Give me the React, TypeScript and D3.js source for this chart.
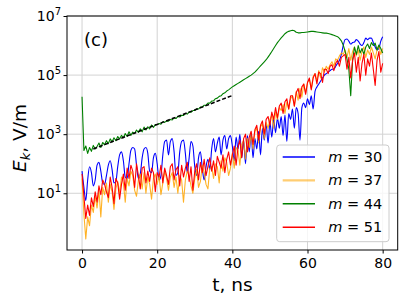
import React, { useEffect, useRef } from "react";
import * as d3 from "d3";

const width = 407;
const height = 305;

// all series are sampled every 0.5 ns, from t = 0 to t = 80
const tStep = 0.5;

const seriesM = [30, 37, 44, 51];
const seriesColors = ["blue", "orange", "green", "red"];

// log10(E_k / (V/m)), one row = 5 ns
const m30 = [
  1.75, 1.2, 0.75, 1.45, 1.9, 1.7, 1.25, 1.45, 1.95, 2.05,
  1.75, 1.35, 1.3, 1.6, 1.95, 2.1, 1.8, 1.35, 1.4, 1.9,
  2.3, 2.4, 2.1, 1.55, 1.5, 2.0, 2.45, 2.55, 2.5, 1.95,
  1.5, 1.65, 2.2, 2.5, 2.55, 2.35, 1.75, 1.7, 2.2, 2.35,
  2.0, 1.45, 1.6, 2.3, 2.75, 2.8, 2.3, 2.75, 2.85, 2.4,
  1.6, 1.7, 2.4, 2.75, 2.8, 2.35, 1.7, 2.2, 2.75, 2.6,
  1.9, 1.6, 2.2, 2.4, 1.85, 1.45, 1.9, 2.15, 1.8, 2.5,
  2.85, 2.4, 2.7, 2.9, 2.3, 2.8, 2.95, 2.5, 2.85, 2.95,
  2.6, 2.1, 2.9, 2.5, 3.0, 2.2, 2.8, 2.0, 2.95, 2.4,
  3.05, 2.2, 2.85, 2.5, 3.1, 2.3, 3.2, 2.8, 3.35, 2.7,
  3.4, 2.9, 3.5, 3.05, 3.55, 3.2, 3.6, 2.95, 3.65, 2.75,
  3.7, 3.5, 3.85, 3.2, 3.9, 3.7, 2.8, 3.9, 4.05, 3.9,
  4.2, 4.0, 4.3, 3.85, 4.45, 4.6, 4.7, 4.8, 4.9, 5.0,
  5.05, 5.1, 5.15, 5.2, 5.2, 5.3, 5.4, 5.5, 5.7, 6.0,
  6.2, 6.22, 6.15, 6.05, 6.1, 6.12, 6.2, 6.15, 6.05, 6.0,
  6.1, 6.25, 6.2, 6.25, 6.25, 6.1, 5.95, 5.85, 5.9, 6.15,
  6.3,
];

const m37 = [
  1.5, 0.3, -0.55, 0.2, -0.1, 0.6, 0.35, 0.9, 0.5, 1.1,
  0.2, 1.2, 0.95, 1.35, 0.7, 1.3, 1.05, 0.45, 1.15, 1.4,
  1.0, 1.55, 1.35, 0.7, 1.5, 1.25, 1.75, 1.6, 1.1, 0.9,
  1.45, 1.65, 1.15, 1.7, 1.0, 1.55, 1.3, 0.8, 1.5, 1.65,
  1.3, 1.6, 0.95, 1.35, 1.75, 1.5, 1.1, 1.55, 1.7, 1.2,
  1.55, 1.0, 1.6, 1.45, 0.7, 1.45, 1.75, 1.6, 1.25, 1.0,
  1.5, 1.8, 1.2, 1.4, 1.95, 1.7, 1.3, 1.15, 1.85, 1.9,
  1.5, 2.0, 1.9, 1.35, 2.1, 1.75, 2.2, 2.05, 1.6, 1.85,
  2.35, 1.85, 2.55, 2.45, 1.95, 2.65, 2.8, 2.15, 2.85, 2.55,
  3.0, 2.5, 3.1, 3.2, 2.7, 3.25, 3.35, 2.85, 3.4, 3.2,
  3.5, 3.65, 3.2, 3.75, 3.5, 3.9, 3.8, 4.0, 3.7, 4.1,
  3.85, 4.2, 4.3, 3.95, 4.45, 4.15, 4.55, 4.25, 4.7, 4.4,
  4.75, 4.85, 4.55, 4.95, 5.05, 4.8, 5.15, 4.9, 5.25, 5.1,
  5.3, 5.2, 5.35, 5.45, 5.3, 5.55, 5.5, 5.65, 5.75, 5.7,
  5.85, 5.6, 5.9, 5.5, 5.8, 5.95, 5.65, 5.85, 5.5, 5.8,
  5.95, 5.6, 5.85, 5.7, 5.95, 5.75, 5.55, 5.85, 6.0, 5.7,
  5.9,
];

const m44 = [
  4.27, 2.45, 2.6, 2.35, 2.55, 2.42, 2.62, 2.5, 2.58, 2.7,
  2.55, 2.72, 2.64, 2.78, 2.68, 2.84, 2.74, 2.88, 2.78, 2.92,
  2.84, 2.96, 2.88, 3.02, 2.92, 3.08, 2.96, 3.07, 3.02, 3.14,
  3.06, 3.18, 3.08, 3.24, 3.14, 3.25, 3.18, 3.31, 3.23, 3.33,
  3.32, 3.36, 3.34, 3.42, 3.4, 3.45, 3.44, 3.5, 3.48, 3.55,
  3.53, 3.6, 3.58, 3.64, 3.63, 3.7, 3.68, 3.75, 3.74, 3.8,
  3.8, 3.86, 3.85, 3.92, 3.92, 3.98, 3.98, 4.05, 4.05, 4.12,
  4.13, 4.2, 4.22, 4.28, 4.3, 4.37, 4.4, 4.46, 4.5, 4.55,
  4.6, 4.64, 4.68, 4.72, 4.76, 4.8, 4.84, 4.88, 4.92, 4.96,
  5.0, 5.05, 5.1, 5.17, 5.24, 5.31, 5.38, 5.45, 5.52, 5.61,
  5.7, 5.8, 5.9, 6.0, 6.1, 6.18, 6.26, 6.33, 6.4, 6.45,
  6.48, 6.5, 6.52, 6.5, 6.45, 6.43, 6.43, 6.44, 6.44, 6.45,
  6.46, 6.47, 6.48, 6.48, 6.47, 6.46, 6.45, 6.44, 6.43, 6.42,
  6.42, 6.41, 6.39, 6.37, 6.35, 6.32, 6.3, 6.24, 6.16, 6.02,
  5.8, 5.55, 5.2, 4.3, 5.5, 5.95, 5.7, 6.0, 5.75, 5.9,
  5.7, 5.95, 6.05, 5.9, 6.1, 6.0, 6.08, 5.85, 6.02, 5.9,
  5.75,
];

const m51 = [
  1.65, 0.9, 0.15, 0.6, 0.25, 0.85, 0.55, 1.05, 0.7, 1.25,
  0.95, 1.45, 1.3, 1.05, 0.85, 1.55, 1.2, 0.65, 1.5, 1.35,
  0.8, 1.3, 1.65, 1.1, 1.85, 1.5, 1.95, 1.75, 1.2, 2.0,
  1.6, 1.15, 1.85, 1.9, 1.35, 1.75, 1.4, 1.85, 1.7, 1.05,
  1.7, 1.55, 1.95, 1.35, 1.85, 1.6, 1.3, 1.9, 2.0, 1.45,
  1.8, 1.9, 1.25, 1.95, 1.55, 1.85, 2.05, 1.4, 1.9, 1.1,
  1.75, 2.0, 1.45, 2.05, 1.7, 2.15, 1.6, 1.9, 2.2, 1.75,
  2.1, 1.6, 2.25, 2.05, 1.85, 2.3, 1.7, 2.15, 2.4, 1.95,
  2.3, 2.6, 1.95, 2.55, 2.8, 2.2, 2.85, 3.0, 2.4, 2.9,
  3.1, 2.65, 3.15, 3.3, 2.8, 3.3, 3.45, 3.0, 3.5, 3.6,
  3.3, 3.75, 3.5, 3.9, 3.55, 3.95, 4.05, 3.7, 4.1, 4.2,
  3.85, 4.3, 4.3, 3.95, 4.4, 4.55, 4.2, 4.6, 4.7, 4.35,
  4.75, 4.9, 4.5, 4.9, 5.05, 4.7, 5.1, 5.05, 4.75, 5.2,
  5.2, 5.05, 5.3, 5.35, 5.15, 5.4, 5.5, 5.3, 5.6, 5.65,
  5.7, 5.2, 5.6, 4.9, 5.5, 5.75, 5.1, 5.6, 4.8, 5.4,
  5.7, 5.0, 5.55, 5.3, 5.75, 5.2, 4.65, 5.5, 5.8, 5.1,
  5.4,
];

const seriesData = [m30, m37, m44, m51];

// exponential fit of the m = 44 growth stage (dashed)
const fitT = [3, 40];
const fitLog = [2.5, 4.31];

const xTicks = [0, 20, 40, 60, 80];
const yTickExps = [1, 3, 5, 7];

const App = () => {
  const ref = useRef(null);

  useEffect(() => {
    const svg = d3.select(ref.current);
    svg.selectAll("*").remove();

    const font = "DejaVu Sans, sans-serif";
    const left = 67,
      right = 397.7,
      top = 16,
      bottom = 250;

    const x = d3.scaleLinear().domain([-4, 84]).range([left, right]);
    const y = d3
      .scaleLog()
      .domain([Math.pow(10, -0.92), 1e7])
      .range([bottom, top]);

    svg.append("rect").attr("width", width).attr("height", height).attr("fill", "white");

    // grid
    const grid = svg.append("g").attr("stroke", "#d3d3d3").attr("stroke-width", 1);
    grid
      .selectAll("line.gx")
      .data(xTicks)
      .join("line")
      .attr("x1", (d) => x(d))
      .attr("x2", (d) => x(d))
      .attr("y1", top)
      .attr("y2", bottom);
    grid
      .selectAll("line.gy")
      .data(yTickExps)
      .join("line")
      .attr("x1", left)
      .attr("x2", right)
      .attr("y1", (d) => y(Math.pow(10, d)))
      .attr("y2", (d) => y(Math.pow(10, d)));

    svg
      .append("clipPath")
      .attr("id", "plot-clip")
      .append("rect")
      .attr("x", left)
      .attr("y", top)
      .attr("width", right - left)
      .attr("height", bottom - top);

    const lineGenerator = d3
      .line<number>()
      .x((_, i) => x(i * tStep))
      .y((d) => y(Math.pow(10, d)));

    const plot = svg.append("g").attr("clip-path", "url(#plot-clip)");
    seriesData.forEach((data, k) => {
      plot
        .append("path")
        .datum(data)
        .attr("d", lineGenerator.curve(k == 0 ? d3.curveMonotoneX : d3.curveLinear))
        .attr("fill", "none")
        .attr("stroke", seriesColors[k])
        .attr("stroke-width", 1.1)
        .attr("stroke-linejoin", "round")
        .attr("opacity", k == 1 ? 0.85 : 1);
    });

    plot
      .append("path")
      .datum(fitT.map((t, i) => [t, fitLog[i]]))
      .attr(
        "d",
        d3
          .line<number[]>()
          .x((d) => x(d[0]))
          .y((d) => y(Math.pow(10, d[1])))
      )
      .attr("fill", "none")
      .attr("stroke", "black")
      .attr("stroke-width", 1.5)
      .attr("stroke-dasharray", "4,2");

    // frame
    svg
      .append("rect")
      .attr("x", left)
      .attr("y", top)
      .attr("width", right - left)
      .attr("height", bottom - top)
      .attr("fill", "none")
      .attr("stroke", "black")
      .attr("stroke-width", 1);

    // x axis
    const xAxis = svg
      .append("g")
      .attr("transform", `translate(0,${bottom})`)
      .call(d3.axisBottom(x).tickValues(xTicks).tickSize(3.5).tickPadding(5));
    xAxis.select(".domain").remove();
    xAxis
      .selectAll("text")
      .attr("font-family", font)
      .attr("font-size", 14)
      .attr("fill", "black");

    // y axis, labels as 10^n
    const yAxis = svg
      .append("g")
      .attr("transform", `translate(${left},0)`)
      .call(
        d3
          .axisLeft(y)
          .tickValues(yTickExps.map((e) => Math.pow(10, e)))
          .tickFormat(() => "")
          .tickSize(3.5)
      );
    yAxis.select(".domain").remove();
    const yLabels = svg
      .append("g")
      .attr("font-family", font)
      .attr("fill", "black")
      .selectAll("text")
      .data(yTickExps)
      .join("text")
      .attr("x", left - 6)
      .attr("y", (d) => y(Math.pow(10, d)) + 5)
      .attr("text-anchor", "end");
    yLabels.append("tspan").attr("font-size", 14).text("10");
    yLabels
      .append("tspan")
      .attr("font-size", 10)
      .attr("dy", -6)
      .text((d) => String(d));

    // axis titles
    svg
      .append("text")
      .attr("x", (left + right) / 2)
      .attr("y", 291)
      .attr("text-anchor", "middle")
      .attr("font-family", font)
      .attr("font-size", 18.5)
      .text("t, ns");

    const yTitle = svg
      .append("text")
      .attr("transform", "translate(26,138) rotate(-90)")
      .attr("text-anchor", "middle")
      .attr("font-family", font)
      .attr("font-size", 18.5);
    yTitle.append("tspan").attr("font-style", "italic").text("E");
    yTitle
      .append("tspan")
      .attr("font-style", "italic")
      .attr("font-size", 13)
      .attr("dy", 4)
      .text("k");
    yTitle.append("tspan").attr("dy", -4).text(", V/m");

    svg
      .append("text")
      .attr("x", 84)
      .attr("y", 46)
      .attr("font-family", font)
      .attr("font-size", 18)
      .text("(c)");

    // legend
    const legend = svg.append("g").attr("font-family", font);
    legend
      .append("rect")
      .attr("x", 276.7)
      .attr("y", 145)
      .attr("width", 112.3)
      .attr("height", 96.7)
      .attr("rx", 3)
      .attr("fill", "white")
      .attr("fill-opacity", 0.8)
      .attr("stroke", "#cccccc")
      .attr("stroke-width", 1);
    seriesM.forEach((m, i) => {
      const ly = 157 + i * 23.4;
      legend
        .append("line")
        .attr("x1", 282.7)
        .attr("x2", 315)
        .attr("y1", ly)
        .attr("y2", ly)
        .attr("stroke", seriesColors[i])
        .attr("stroke-width", i == 1 ? 2.2 : 1.5)
        .attr("opacity", i == 1 ? 0.55 : 1);
      const t = legend
        .append("text")
        .attr("x", 328.3)
        .attr("y", ly + 5)
        .attr("font-size", 14.5);
      t.append("tspan").attr("font-style", "italic").text("m");
      t.append("tspan").text(" = " + m);
    });
  }, []);

  return (
    <svg
      ref={ref}
      width={width}
      height={height}
      style={{ position: "absolute", left: 0, top: 0 }}
    />
  );
};

export default App;
